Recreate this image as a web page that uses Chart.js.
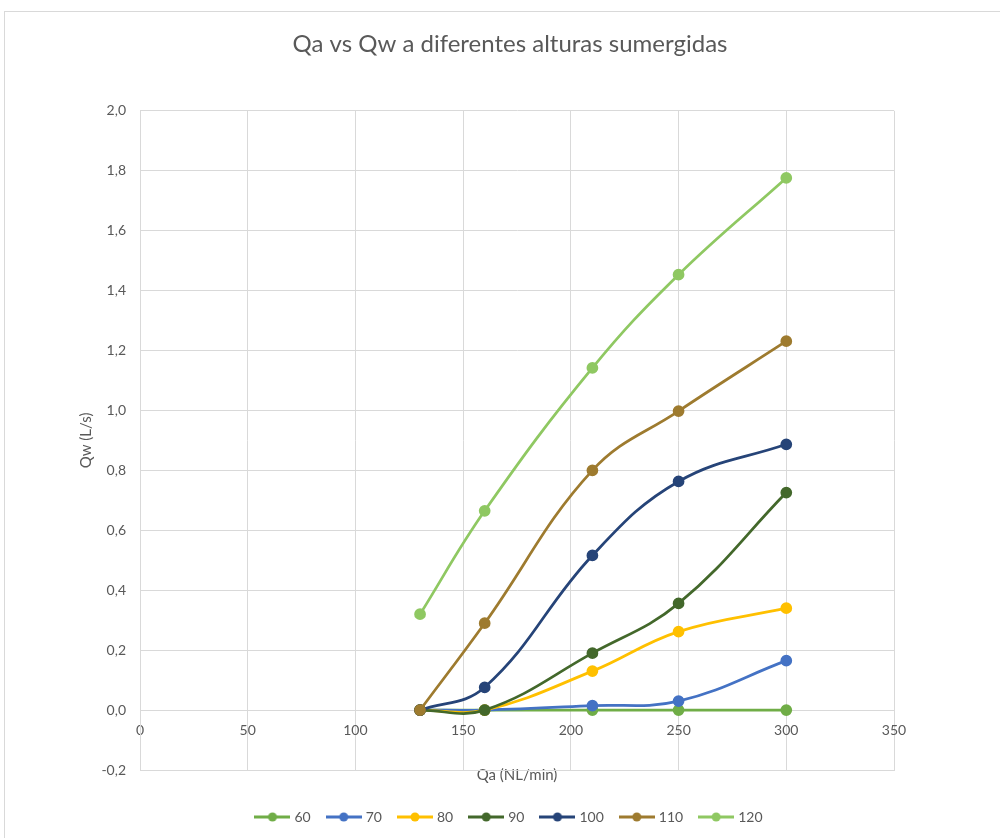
<!DOCTYPE html>
<html>
<head>
<meta charset="utf-8">
<script src="https://cdn.jsdelivr.net/npm/chart.js@4/dist/chart.umd.min.js"></script>
<style>
html,body{margin:0;padding:0;background:#fff;overflow:hidden;}
#frame{position:absolute;left:4px;top:11px;width:1010px;height:900px;border:1px solid #d9d9d9;box-sizing:border-box;}
#wrap{position:absolute;left:0;top:0;width:1000px;height:838px;}
</style>
</head>
<body>
<div id="frame"></div>
<div id="wrap"><canvas id="c" width="1000" height="838"></canvas></div>
<script>
const qa = [130, 160, 210, 250, 300];
const seriesNames = ["60", "70", "80", "90", "100", "110", "120"];
const qw60  = [0, 0, 0, 0, 0];
const qw70  = [0, 0, 0.015, 0.03, 0.165];
const qw80  = [0, 0, 0.13, 0.262, 0.34];
const qw90  = [0, 0, 0.19, 0.356, 0.726];
const qw100 = [0, 0.076, 0.516, 0.763, 0.887];
const qw110 = [0, 0.29, 0.80, 0.998, 1.231];
const qw120 = [0.32, 0.665, 1.142, 1.453, 1.776];
const xTicks = [0, 50, 100, 150, 200, 250, 300, 350];
const yTicks = [-0.2, 0, 0.2, 0.4, 0.6, 0.8, 1.0, 1.2, 1.4, 1.6, 1.8, 2.0];
const colors = ["#70AD47", "#4472C4", "#FFC000", "#43682B", "#264478", "#9E7B2F", "#8FC862"];

const allValues = [qw60, qw70, qw80, qw90, qw100, qw110, qw120];
const txt = "#595959";
const gridC = "#d9d9d9";
const fontFam = "Lato, 'Open Sans', sans-serif";

function legendImg(color) {
  const c = document.createElement('canvas');
  c.width = 36; c.height = 12;
  const g = c.getContext('2d');
  g.strokeStyle = color; g.lineWidth = 3;
  g.beginPath(); g.moveTo(0, 6); g.lineTo(36, 6); g.stroke();
  g.fillStyle = color;
  g.beginPath(); g.arc(18, 6, 4.5, 0, Math.PI * 2); g.fill();
  return c;
}

const datasets = seriesNames.map((n, i) => ({
  label: n,
  data: qa.map((x, j) => ({x: x, y: allValues[i][j]})),
  borderColor: colors[i],
  backgroundColor: colors[i],
  pointBackgroundColor: colors[i],
  pointBorderColor: colors[i],
  pointRadius: 4.5,
  pointHoverRadius: 4.5,
  borderWidth: 2.75,
  tension: 0.4,
  fill: false,
  order: 10 - i,
  xAxisID: 'x',
  yAxisID: 'y'
}));

const fmt = v => (Math.round(v * 10) / 10).toFixed(1).replace('.', ',');

new Chart(document.getElementById('c'), {
  type: 'line',
  data: { datasets: datasets },
  options: {
    responsive: false,
    animation: false,
    layout: { padding: { left: 20, right: 0, top: 0, bottom: 4 } },
    plugins: {
      tooltip: { enabled: false },
      title: {
        display: true,
        text: 'Qa vs Qw a diferentes alturas sumergidas',
        color: txt,
        font: { family: fontFam, size: 24, weight: 'normal', lineHeight: 1.2 },
        padding: { top: 30, bottom: 52 }
      },
      legend: {
        position: 'bottom',
        labels: {
          usePointStyle: true,
          pointStyleWidth: 30,
          padding: 18,
          color: txt,
          font: { family: fontFam, size: 14 },
          generateLabels: (chart) => chart.data.datasets.map((d, i) => ({
            text: d.label,
            fillStyle: d.borderColor,
            strokeStyle: d.borderColor,
            fontColor: txt,
            lineWidth: 0,
            pointStyle: legendImg(d.borderColor),
            hidden: false,
            datasetIndex: i
          }))
        }
      }
    },
    scales: {
      x: {
        type: 'linear',
        position: 'bottom',
        min: 0, max: 350,
        afterBuildTicks: s => { s.ticks = xTicks.map(v => ({value: v})); },
        ticks: { display: false },
        grid: { color: gridC, lineWidth: 1, drawTicks: false },
        border: { color: gridC, width: 1 },
        title: {
          display: true,
          text: 'Qa (NL/min)',
          color: txt,
          font: { family: fontFam, size: 15, lineHeight: 1.2 },
          padding: { top: 8, bottom: 8 }
        },
        afterFit: s => { s.height = 22; }
      },
      x2: {
        type: 'linear',
        position: { y: 0 },
        min: 0, max: 350,
        afterBuildTicks: s => { s.ticks = xTicks.map(v => ({value: v})); },
        ticks: { color: txt, font: { family: fontFam, size: 14 }, padding: 12, maxRotation: 0, autoSkip: false },
        grid: { display: false, drawTicks: false },
        border: { display: false }
      },
      y: {
        type: 'linear',
        position: 'left',
        min: -0.2, max: 2.0,
        afterBuildTicks: s => { s.ticks = yTicks.map(v => ({value: v})); },
        ticks: {
          color: txt,
          font: { family: fontFam, size: 14 },
          padding: 14,
          callback: v => fmt(v)
        },
        grid: { color: gridC, lineWidth: 1, drawTicks: false },
        border: { color: gridC, width: 1 },
        title: {
          display: true,
          text: 'Qw (L/s)',
          color: txt,
          font: { family: fontFam, size: 15, lineHeight: 1.2 },
          padding: { top: 57, bottom: 57 }
        },
        afterFit: s => { s.width = 120; }
      },
      yR: {
        type: 'linear',
        position: 'right',
        min: -0.2, max: 2.0,
        ticks: { display: false },
        grid: { display: false, drawTicks: false },
        border: { display: false },
        afterFit: s => { s.width = 106; }
      }
    }
  }
});
</script>
</body>
</html>
